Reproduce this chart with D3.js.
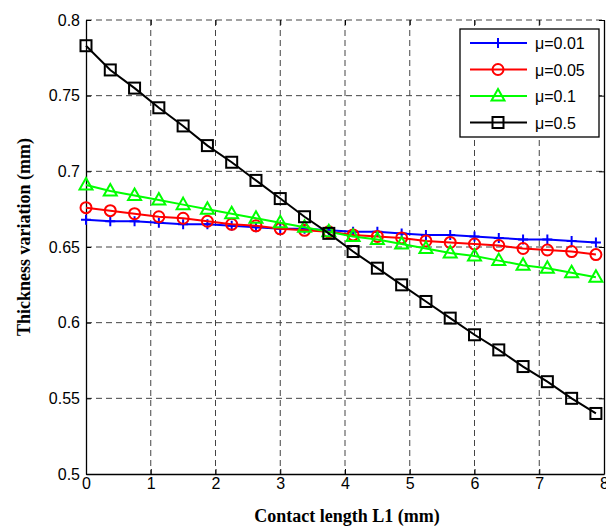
<!DOCTYPE html>
<meta charset="utf-8">
<style>
body { margin: 0; background: #fff; }
.tick text { font-family: "Liberation Sans", Arial, sans-serif; font-size: 16px; fill: #000; }
.title { font-family: "Liberation Serif", "Times New Roman", serif; font-weight: bold; font-size: 18px; }
.legend text { font-family: "Liberation Sans", Arial, sans-serif; font-size: 16px; }
</style>
<body>
<script src="https://cdn.jsdelivr.net/npm/d3@7"></script>
<script>

// data
var contactLength = [0, 0.375, 0.75, 1.125, 1.5, 1.875, 2.25, 2.625, 3, 3.375, 3.75,
                     4.125, 4.5, 4.875, 5.25, 5.625, 6, 6.375, 6.75, 7.125, 7.5, 7.875];
var mu001 = [0.668, 0.667, 0.667, 0.666, 0.665, 0.665, 0.664, 0.663, 0.662, 0.662, 0.661,
             0.660, 0.660, 0.659, 0.658, 0.658, 0.657, 0.656, 0.655, 0.655, 0.654, 0.653];
var mu005 = [0.676, 0.674, 0.672, 0.670, 0.669, 0.667, 0.665, 0.664, 0.662, 0.661, 0.660,
             0.658, 0.657, 0.656, 0.654, 0.653, 0.652, 0.651, 0.649, 0.648, 0.647, 0.645];
var mu01  = [0.691, 0.687, 0.684, 0.681, 0.678, 0.675, 0.672, 0.669, 0.666, 0.663, 0.660,
             0.657, 0.655, 0.652, 0.649, 0.646, 0.644, 0.641, 0.638, 0.636, 0.633, 0.630];
var mu05  = [0.783, 0.767, 0.755, 0.742, 0.730, 0.717, 0.706, 0.694, 0.682, 0.670, 0.659,
             0.647, 0.636, 0.625, 0.614, 0.603, 0.592, 0.582, 0.571, 0.561, 0.550, 0.540];
var seriesNames = ["\u03bc=0.01", "\u03bc=0.05", "\u03bc=0.1", "\u03bc=0.5"];
var xTicks = [0, 1, 2, 3, 4, 5, 6, 7, 8];
var yTicks = [0.5, 0.55, 0.6, 0.65, 0.7, 0.75, 0.8];

var series = [
  { name: seriesNames[0], values: mu001, color: "#0000ff", marker: "plus" },
  { name: seriesNames[1], values: mu005, color: "#ff0000", marker: "circle" },
  { name: seriesNames[2], values: mu01,  color: "#00ff00", marker: "triangle" },
  { name: seriesNames[3], values: mu05,  color: "#000000", marker: "square" }
];

var margin = {top: 20, right: 2, bottom: 52, left: 86},
    width = 606 - margin.left - margin.right,
    height = 526 - margin.top - margin.bottom;

var x = d3.scaleLinear().domain([0, 8]).range([0, width]);
var y = d3.scaleLinear().domain([0.5, 0.8]).range([height, 0]);

var svg = d3.select("body").append("svg")
    .attr("width", 606)
    .attr("height", 526)
  .append("g")
    .attr("transform", "translate(" + margin.left + "," + margin.top + ")");

// grid
svg.append("g").selectAll("line").data(xTicks.slice(1, -1)).enter().append("line")
    .attr("x1", function(d) { return x(d); }).attr("x2", function(d) { return x(d); })
    .attr("y1", 0).attr("y2", height)
    .attr("stroke", "#444").attr("stroke-dasharray", "6,4");
svg.append("g").selectAll("line").data(yTicks.slice(1)).enter().append("line")
    .attr("y1", function(d) { return y(d); }).attr("y2", function(d) { return y(d); })
    .attr("x1", 0).attr("x2", width)
    .attr("stroke", "#444").attr("stroke-dasharray", "6,4");

// axes
var xAxis = svg.append("g")
    .attr("transform", "translate(0," + height + ")")
    .call(d3.axisBottom(x).tickValues(xTicks).tickFormat(d3.format("d")).tickSizeInner(-5).tickSizeOuter(0).tickPadding(4));
var yAxis = svg.append("g")
    .call(d3.axisLeft(y).tickValues(yTicks).tickFormat(function(d) { return String(+d.toFixed(2)); }).tickSizeInner(-5).tickSizeOuter(0).tickPadding(6));
svg.append("g")
    .call(d3.axisTop(x).tickValues(xTicks).tickFormat("").tickSizeInner(-5).tickSizeOuter(0))
    .select(".domain").remove();
svg.append("g")
    .attr("transform", "translate(" + width + ",0)")
    .call(d3.axisRight(y).tickValues(yTicks).tickFormat("").tickSizeInner(-5).tickSizeOuter(0));
svg.selectAll(".domain").attr("stroke", "#000").attr("stroke-width", 1.3);

// lines
var line = d3.line()
    .x(function(d, i) { return x(contactLength[i]); })
    .y(function(d) { return y(d); });

function drawMarker(g, type, color) {
  if (type == "plus") {
    g.append("path").attr("d", "M-5,0H5M0,-5V5");
  } else if (type == "circle") {
    g.append("circle").attr("r", 5.5);
  } else if (type == "triangle") {
    g.append("path").attr("d", "M0,-7L6.5,4.5L-6.5,4.5Z");
  } else {
    g.append("rect").attr("x", -5.5).attr("y", -5.5).attr("width", 11).attr("height", 11);
  }
  g.selectAll("*").attr("fill", "none").attr("stroke", color).attr("stroke-width", 2);
}

series.forEach(function(s) {
  svg.append("path")
      .datum(s.values)
      .attr("fill", "none")
      .attr("stroke", s.color)
      .attr("stroke-width", 2)
      .attr("d", line);
  s.values.forEach(function(v, i) {
    var g = svg.append("g").attr("transform", "translate(" + x(contactLength[i]) + "," + y(v) + ")");
    drawMarker(g, s.marker, s.color);
  });
});

// axis titles
svg.append("text")
    .attr("class", "title")
    .attr("x", width / 2 + 2)
    .attr("y", height + 48)
    .attr("text-anchor", "middle")
    .text("Contact length L1 (mm)");
svg.append("text")
    .attr("class", "title")
    .attr("transform", "rotate(-90)")
    .attr("x", -height / 2 + 10)
    .attr("y", -56)
    .attr("text-anchor", "middle")
    .text("Thickness variation (mm)");

// legend
var legend = svg.append("g").attr("class", "legend")
    .attr("transform", "translate(" + (460 - margin.left) + "," + (29 - margin.top) + ")");
legend.append("rect")
    .attr("width", 139).attr("height", 108)
    .attr("fill", "#fff").attr("stroke", "#000").attr("stroke-width", 1.3);
series.forEach(function(s, i) {
  var yy = 14 + i * 26.5;
  legend.append("line")
      .attr("x1", 10).attr("x2", 67).attr("y1", yy).attr("y2", yy)
      .attr("stroke", s.color).attr("stroke-width", 2);
  var g = legend.append("g").attr("transform", "translate(38," + yy + ")");
  drawMarker(g, s.marker, s.color);
  legend.append("text")
      .attr("x", 75).attr("y", yy + 6)
      .text(s.name);
});

</script>
</body>
